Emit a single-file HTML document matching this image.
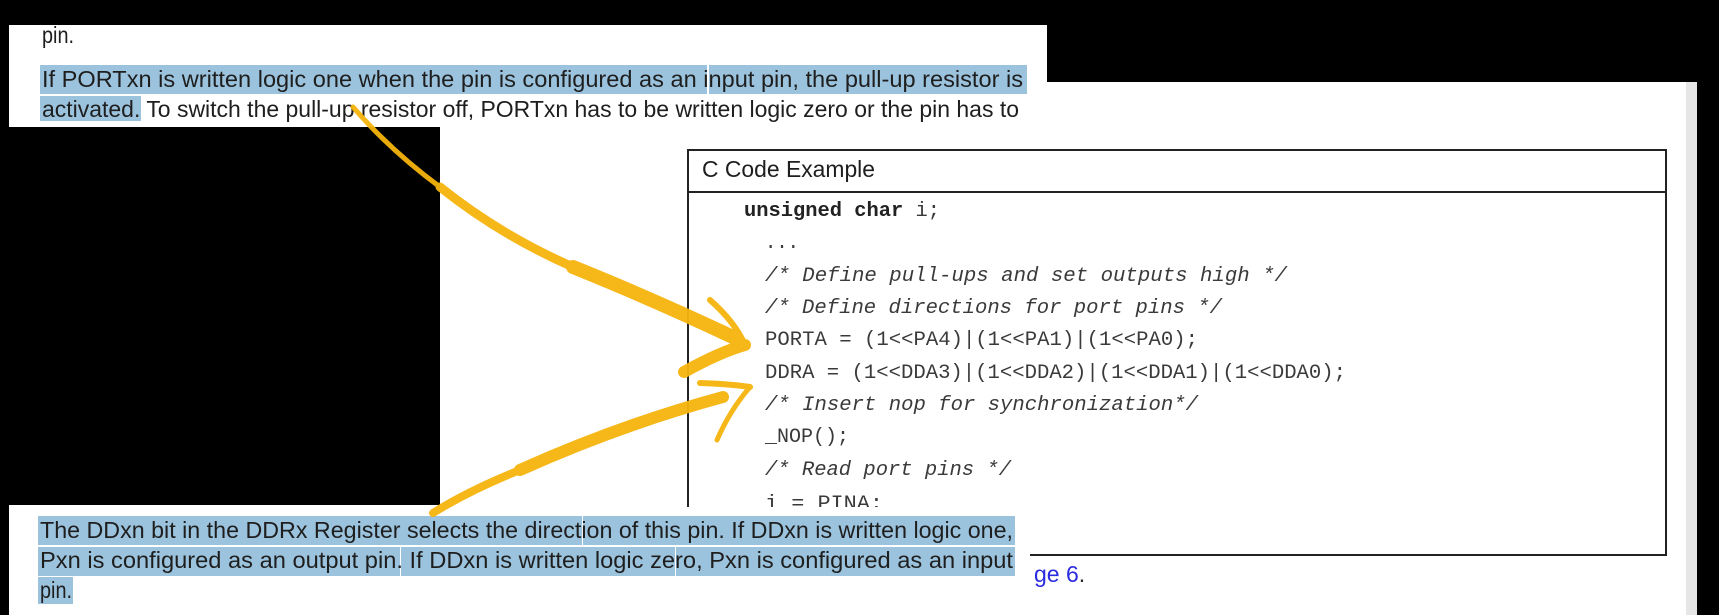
<!DOCTYPE html>
<html><head><meta charset="utf-8"><style>
html,body{margin:0;padding:0;background:#000;}
svg{display:block;}
.s{font-family:"Liberation Sans",Arial,sans-serif;font-size:23px;fill:#1e1e1e;}
.m{font-family:"Liberation Mono","Courier New",monospace;font-size:20px;fill:#3a3a3a;}
.i{font-style:italic;}
</style></head><body>
<svg width="1719" height="615" viewBox="0 0 1719 615" xmlns="http://www.w3.org/2000/svg">
<rect x="0" y="0" width="1719" height="615" fill="#000"/>
<rect x="1047" y="82" width="639" height="533" fill="#fff"/>
<rect x="1686" y="82" width="11" height="533" fill="#e6e6e6"/>
<rect x="9" y="25" width="1038" height="102" fill="#fff"/>
<rect x="440" y="127" width="607" height="488" fill="#fff"/>
<rect x="9" y="505" width="431" height="110" fill="#fff"/>

<rect x="688" y="150" width="978" height="405" fill="none" stroke="#222" stroke-width="2"/>
<line x1="688" y1="192" x2="1666" y2="192" stroke="#222" stroke-width="2"/>
<text class="s" x="702" y="177" textLength="173" lengthAdjust="spacingAndGlyphs">C Code Example</text>
<text class="m" x="744" y="216" textLength="196" lengthAdjust="spacingAndGlyphs"><tspan font-weight="bold" fill="#222">unsigned char</tspan> i;</text>
<text class="m" x="765" y="248" textLength="34" lengthAdjust="spacingAndGlyphs">...</text>
<text class="m i" x="765" y="281" textLength="522" lengthAdjust="spacingAndGlyphs">/* Define pull-ups and set outputs high */</text>
<text class="m i" x="765" y="313" textLength="457" lengthAdjust="spacingAndGlyphs">/* Define directions for port pins */</text>
<text class="m" x="765" y="345" textLength="433" lengthAdjust="spacingAndGlyphs">PORTA = (1&lt;&lt;PA4)|(1&lt;&lt;PA1)|(1&lt;&lt;PA0);</text>
<text class="m" x="765" y="378" textLength="581" lengthAdjust="spacingAndGlyphs">DDRA = (1&lt;&lt;DDA3)|(1&lt;&lt;DDA2)|(1&lt;&lt;DDA1)|(1&lt;&lt;DDA0);</text>
<text class="m i" x="765" y="410" textLength="433" lengthAdjust="spacingAndGlyphs">/* Insert nop for synchronization*/</text>
<text class="m" x="765" y="442" textLength="84" lengthAdjust="spacingAndGlyphs">_NOP();</text>
<text class="m i" x="765" y="475" textLength="246" lengthAdjust="spacingAndGlyphs">/* Read port pins */</text>
<text class="m" x="765" y="509" textLength="118" lengthAdjust="spacingAndGlyphs">i = PINA:</text>

<rect x="9" y="507" width="1021" height="108" fill="#fff"/>
<rect x="38" y="516" width="544" height="29" fill="#9cc3dd"/>
<rect x="583" y="516" width="432" height="29" fill="#9cc3dd"/>
<rect x="38" y="547" width="362" height="29" fill="#9cc3dd"/>
<rect x="401" y="547" width="274" height="29" fill="#9cc3dd"/>
<rect x="676" y="547" width="339" height="29" fill="#9cc3dd"/>
<rect x="38" y="577" width="35" height="27" fill="#9cc3dd"/>
<text class="s" x="40" y="538" textLength="973" lengthAdjust="spacingAndGlyphs">The DDxn bit in the DDRx Register selects the direction of this pin. If DDxn is written logic one,</text>
<text class="s" x="40" y="568" textLength="973" lengthAdjust="spacingAndGlyphs">Pxn is configured as an output pin. If DDxn is written logic zero, Pxn is configured as an input</text>
<text class="s" x="40" y="598" textLength="32" lengthAdjust="spacingAndGlyphs">pin.</text>
<text class="s" x="1034" y="582" style="fill:#2a2ae0">ge 6<tspan style="fill:#222">.</tspan></text>

<rect x="40" y="65" width="667" height="29" fill="#9cc3dd"/>
<rect x="709" y="65" width="318" height="29" fill="#9cc3dd"/>
<rect x="40" y="96" width="101" height="25" fill="#9cc3dd"/>
<text class="s" x="42" y="43" textLength="32" lengthAdjust="spacingAndGlyphs">pin.</text>
<text class="s" x="42" y="87" textLength="981" lengthAdjust="spacingAndGlyphs">If PORTxn is written logic one when the pin is configured as an input pin, the pull-up resistor is</text>
<text class="s" x="42" y="117" textLength="977" lengthAdjust="spacingAndGlyphs">activated. To switch the pull-up resistor off, PORTxn has to be written logic zero or the pin has to</text>

<g fill="none" stroke="#f6b40c" stroke-linecap="round" stroke-linejoin="round" opacity="0.95">
<path d="M353,107 Q390,150 440,187" stroke-width="5"/>
<path d="M440,187 Q500,235 573,267" stroke-width="9"/>
<path d="M573,267 Q650,298 735,338" stroke-width="14"/>
<path d="M710,300 Q735,322 745,345" stroke-width="6"/>
<path d="M745,345 Q720,352 684,372" stroke-width="12"/>
<path d="M433,513 Q470,490 520,470" stroke-width="8"/>
<path d="M520,470 Q620,425 723,397" stroke-width="12"/>
<path d="M700,383 Q730,384 750,387" stroke-width="6"/>
<path d="M750,387 Q730,410 717,440" stroke-width="5"/>
</g>
</svg>
</body></html>
